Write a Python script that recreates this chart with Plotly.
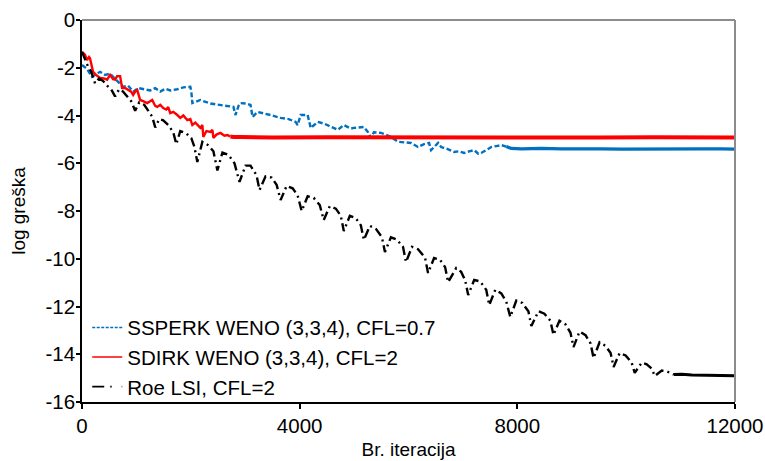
import plotly.graph_objects as go

# ---------------- data ----------------
ssperk_it = [0, 92, 184, 332, 424, 516, 645, 756, 848, 940, 1032, 1124, 1253, 1346, 1438, 1530, 1622, 1751, 1862, 1991,
             2009, 2028, 2175, 2359, 2544, 2691, 2783, 2820, 2876, 2912, 3023, 3097, 3134, 3226, 3336, 3465, 3650, 3797,
             3926, 3963, 4018, 4147, 4203, 4332, 4461, 4571, 4700, 4811, 4940, 4995, 5124, 5180, 5253, 5309, 5364, 5493,
             5585, 5677, 5806, 5954, 6046, 6175, 6286, 6378, 6415, 6544, 6599, 6710, 6839, 6931, 7023, 7115, 7207, 7281,
             7336, 7428, 7521, 7613, 7705, 7797, 7889, 8074, 8442, 8811, 9180, 9548, 9917, 10286, 10654, 11023, 11392,
             11760, 12000]
ssperk_val = [-1.88, -2.05, -2.38, -2.17, -2.3, -2.25, -2.55, -2.8, -2.75, -3.0, -2.85, -2.9, -2.95, -2.85, -3.0, -2.88,
              -2.95, -2.9, -2.82, -2.8, -3.0, -3.48, -3.35, -3.5, -3.56, -3.6, -3.64, -3.98, -3.6, -3.48, -3.5, -3.56,
              -4.06, -3.85, -3.9, -3.98, -4.1, -4.15, -4.27, -4.4, -3.98, -3.98, -4.52, -4.27, -4.35, -4.48, -4.6, -4.4,
              -4.55, -4.52, -4.48, -4.48, -4.69, -4.94, -4.7, -4.73, -4.8, -4.9, -5.1, -5.12, -5.15, -5.32, -5.2, -5.15,
              -5.45, -5.15, -5.32, -5.4, -5.53, -5.5, -5.57, -5.5, -5.45, -5.6, -5.57, -5.45, -5.32, -5.28, -5.24, -5.3,
              -5.38, -5.4, -5.38, -5.4, -5.39, -5.4, -5.41, -5.4, -5.4, -5.41, -5.4, -5.4, -5.41]

sdirk_it = [0, 55, 92, 129, 147, 203, 258, 332, 405, 461, 516, 571, 608, 645, 700, 737, 792, 848, 903, 940, 977, 1014,
            1051, 1069, 1124, 1198, 1253, 1290, 1346, 1383, 1438, 1493, 1548, 1585, 1622, 1677, 1751, 1806, 1862, 1935,
            1991, 2028, 2083, 2138, 2175, 2212, 2230, 2286, 2359, 2396, 2415, 2470, 2544, 2618, 2673, 2728, 2783, 2912,
            3500, 4500, 5500, 6500, 7500, 8500, 9500, 10500, 11500, 12000]
sdirk_val = [-1.34, -1.45, -1.68, -1.55, -1.6, -2.17, -2.3, -2.43, -2.45, -2.5, -2.3, -2.48, -2.5, -2.35, -2.35, -2.85,
             -2.85, -2.93, -3.0, -3.14, -3.0, -2.93, -3.2, -3.35, -3.4, -3.48, -3.4, -3.35, -3.6, -3.64, -3.55, -3.69,
             -3.75, -3.65, -3.9, -3.85, -3.98, -4.1, -4.0, -4.19, -4.15, -4.4, -4.3, -4.45, -4.52, -4.4, -4.9, -4.65,
             -4.69, -4.6, -4.94, -4.8, -4.73, -4.85, -4.82, -4.88, -4.9, -4.9, -4.92, -4.91, -4.92, -4.92, -4.91, -4.92,
             -4.92, -4.91, -4.92, -4.92]

roe_it = [0, 55, 111, 166, 240, 313, 387, 461, 535, 608, 682, 756, 829, 903, 977, 1051, 1143, 1235, 1290, 1346,
          1419, 1493, 1585, 1677, 1733, 1806, 1917, 2009, 2064, 2120, 2212, 2323, 2415, 2488, 2581, 2691, 2802, 2894,
          3005, 3097, 3207, 3262, 3373, 3484, 3576, 3650, 3760, 3871, 3963, 4037, 4147, 4258, 4369, 4442, 4553, 4664,
          4756, 4811, 4922, 5032, 5124, 5180, 5290, 5401, 5512, 5567, 5677, 5788, 5899, 5954, 6065, 6175, 6304, 6359,
          6470, 6581, 6673, 6728, 6876, 6968, 7041, 7097, 7207, 7318, 7428, 7484, 7594, 7705, 7797, 7871, 7981, 8092,
          8203, 8258, 8387, 8497, 8608, 8664, 8774, 8885, 8977, 9032, 9143, 9253, 9346, 9401, 9511, 9622, 9714, 9769,
          9880, 9990, 10101, 10157, 10286, 10378, 10470, 10526, 10654, 10747, 10876, 11023, 11207, 11392, 11576, 11760,
          12000]
roe_val = [-1.34, -1.65, -1.95, -2.15, -2.65, -2.45, -2.55, -2.75, -2.9, -3.2, -2.9, -3.0, -3.2, -3.4, -3.8, -3.45,
           -3.55, -3.85, -4.05, -4.5, -4.15, -4.2, -4.4, -4.7, -5.2, -4.65, -4.75, -4.95, -5.3, -5.95, -5.1, -5.25,
           -5.5, -6.3, -5.55, -5.65, -6.0, -6.78, -6.1, -6.1, -6.5, -7.12, -6.55, -6.6, -6.9, -7.54, -6.95, -7.05,
           -7.35, -8.0, -7.38, -7.45, -7.75, -8.38, -7.8, -7.9, -8.2, -8.84, -8.2, -8.3, -8.6, -9.21, -8.62, -8.75,
           -9.1, -9.72, -9.1, -9.2, -9.5, -10.14, -9.5, -9.6, -9.95, -10.6, -9.97, -10.05, -10.35, -10.98, -10.39,
           -10.55, -10.9, -11.52, -10.89, -10.95, -11.3, -11.94, -11.3, -11.45, -11.8, -12.44, -11.75, -11.85, -12.2,
           -12.82, -12.2, -12.3, -12.6, -13.19, -12.6, -12.75, -13.1, -13.7, -13.05, -13.2, -13.55, -14.16, -13.5,
           -13.65, -13.95, -14.53, -13.95, -14.05, -14.35, -14.78, -14.35, -14.42, -14.6, -14.91, -14.68, -14.72,
           -14.85, -14.84, -14.87, -14.88, -14.87, -14.89, -14.9]

series_names = ["SSPERK WENO (3,3,4), CFL=0.7", "SDIRK WENO (3,3,4), CFL=2", "Roe LSI, CFL=2"]
x_ticks = [0, 4000, 8000, 12000]
x_ticklabels = ["0", "4000", "8000", "12000"]
y_ticks = [0, -2, -4, -6, -8, -10, -12, -14, -16]
y_ticklabels = ["0", "-2", "-4", "-6", "-8", "-10", "-12", "-14", "-16"]
x_title = "Br. iteracija"
y_title = "log greška"

# iteration from which each residual history has settled (drawn as a heavier solid line)
ssperk_settled = 7797
sdirk_settled = 2728
roe_settled = 10876

# ---------------- styles ----------------
BLUE = "#0070C0"
RED = "#FF0000"
BLACK = "#000000"
FONT = "Liberation Sans, Arial, sans-serif"


def split(xs, ys, at):
    a = [(x, y) for x, y in zip(xs, ys) if x <= at]
    b = [(x, y) for x, y in zip(xs, ys) if x >= at]
    return ([p[0] for p in a], [p[1] for p in a]), ([p[0] for p in b], [p[1] for p in b])


fig = go.Figure()

(b1x, b1y), (b2x, b2y) = split(ssperk_it, ssperk_val, ssperk_settled)
(r1x, r1y), (r2x, r2y) = split(sdirk_it, sdirk_val, sdirk_settled)
(k1x, k1y), (k2x, k2y) = split(roe_it, roe_val, roe_settled)

fig.add_trace(go.Scatter(x=b1x, y=b1y, mode="lines", showlegend=False,
                         line=dict(color=BLUE, width=2.4, dash="5px,2.5px")))
fig.add_trace(go.Scatter(x=b2x, y=b2y, mode="lines", showlegend=False,
                         line=dict(color=BLUE, width=3.2)))
fig.add_trace(go.Scatter(x=r1x, y=r1y, mode="lines", showlegend=False,
                         line=dict(color=RED, width=2.4)))
fig.add_trace(go.Scatter(x=r2x, y=r2y, mode="lines", showlegend=False,
                         line=dict(color=RED, width=4)))
fig.add_trace(go.Scatter(x=k1x, y=k1y, mode="lines", showlegend=False,
                         line=dict(color=BLACK, width=2.4, dash="9px,4px,2px,4px")))
fig.add_trace(go.Scatter(x=k2x, y=k2y, mode="lines", showlegend=False,
                         line=dict(color=BLACK, width=3)))

# legend entries (thin sample lines as in the reference)
legend_styles = [dict(color=BLUE, width=1.5, dash="3px,1.5px"),
                 dict(color=RED, width=1.5),
                 dict(color=BLACK, width=1.8, dash="12px,6px,1.5px,10px")]
for name, st in zip(series_names, legend_styles):
    fig.add_trace(go.Scatter(x=[None], y=[None], mode="lines", name=name, line=st, showlegend=True))

fig.update_layout(
    width=765, height=461,
    margin=dict(l=82, r=30, t=20, b=59),
    paper_bgcolor="white", plot_bgcolor="white",
    font=dict(family=FONT, size=20, color="#000000"),
    showlegend=True,
    legend=dict(x=0.008, y=-0.012, xanchor="left", yanchor="bottom", bgcolor="rgba(0,0,0,0)",
                font=dict(family=FONT, size=20.5, color="#000000"), tracegroupgap=0,
                itemwidth=30),
    xaxis=dict(range=[0, 12000], tickvals=x_ticks, ticktext=x_ticklabels, showgrid=False, zeroline=False,
               showline=True, linecolor="#000000", linewidth=1.5, ticks="outside", ticklen=5,
               tickcolor="#000000", tickwidth=1.5, automargin=False,
               tickfont=dict(family=FONT, size=20.5),
               title=dict(text=x_title, font=dict(family=FONT, size=19), standoff=6)),
    yaxis=dict(range=[-16, 0], tickvals=y_ticks, ticktext=y_ticklabels, showgrid=False, zeroline=False,
               showline=True, linecolor="#000000", linewidth=1.5, ticks="outside", ticklen=4,
               tickcolor="#000000", tickwidth=1.5, automargin=False, ticklabelstandoff=-3,
               tickfont=dict(family=FONT, size=20.5),
               title=dict(text=y_title, font=dict(family=FONT, size=19), standoff=15)),
    shapes=[
        dict(type="line", xref="paper", yref="paper", x0=0, x1=1, y0=1, y1=1,
             line=dict(color="#8C8C8C", width=2), layer="above"),
        dict(type="line", xref="paper", yref="paper", x0=1, x1=1, y0=0, y1=1,
             line=dict(color="#8C8C8C", width=2), layer="above"),
    ],
)

fig.write_html("out.html")
